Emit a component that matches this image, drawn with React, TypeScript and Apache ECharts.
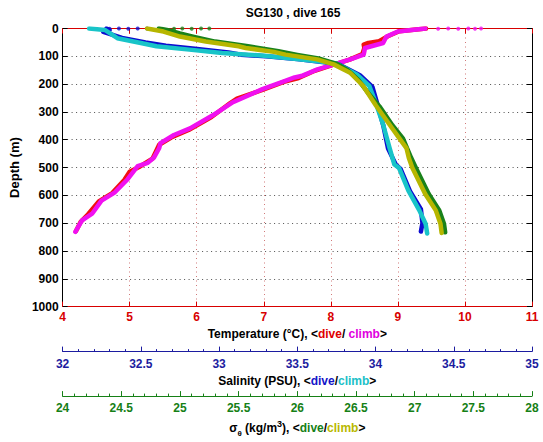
import React, { useEffect, useRef } from 'react';
import * as echarts from 'echarts';

const titleText = 'SG130 , dive 165';
const depthRange = [0, 1000, 100];
const tempRange = [4, 11, 1];
const salRange = [32, 35, 0.5];
const sigmaRange = [24, 28, 0.5];

// [value, depth (m)]
const tempDive: number[][] = [
  [9.42, 0], [9.02, 10], [8.85, 28], [8.72, 46], [8.56, 52], [8.49, 58], [8.5, 70], [8.47, 92],
  [8.28, 112], [8.02, 132], [7.76, 152], [7.52, 178], [7.3, 192], [6.97, 222], [6.6, 252],
  [6.5, 268], [6.22, 318], [5.88, 365], [5.62, 392], [5.44, 418], [5.34, 468], [5.14, 498],
  [5.0, 515], [4.92, 545], [4.74, 592], [4.54, 622], [4.38, 668], [4.27, 695], [4.2, 728],
];
const tempClimb: number[][] = [
  [9.41, 0], [9.0, 11], [8.83, 29], [8.78, 52], [8.51, 70], [8.49, 94], [8.29, 111], [8.05, 129],
  [7.8, 147], [7.56, 171], [7.46, 176], [7.32, 188], [6.98, 218], [6.54, 265], [6.24, 312],
  [5.9, 359], [5.66, 383], [5.46, 412], [5.44, 430], [5.36, 465], [5.27, 483], [5.12, 495],
  [4.97, 542], [4.78, 589], [4.58, 619], [4.44, 666], [4.29, 690], [4.19, 731],
];
const tempClimbSurface: number[][] = [
  [9.6, 1], [9.75, 0], [9.9, 1], [10.05, 0], [10.15, 1], [10.24, 0],
];

const salDive: number[][] = [
  [32.28, 0], [32.3, 6], [32.26, 12], [32.38, 34], [32.53, 50], [32.66, 62], [32.86, 74],
  [33.06, 86], [33.14, 94], [33.3, 100], [33.5, 110], [33.7, 123], [33.77, 130], [33.9, 168],
  [33.98, 210], [34.01, 268], [34.05, 350], [34.08, 432], [34.13, 490], [34.16, 505],
  [34.22, 585], [34.29, 650], [34.3, 700], [34.29, 730],
];
const salClimb: number[][] = [
  [32.17, 0], [32.27, 5], [32.35, 35], [32.5, 52], [32.6, 64], [32.81, 76], [33.02, 88],
  [33.27, 97], [33.48, 109], [33.69, 121], [33.75, 126], [33.88, 165], [33.96, 206],
  [34.0, 265], [34.05, 348], [34.09, 430], [34.12, 489], [34.15, 501], [34.21, 583],
  [34.28, 654], [34.32, 702], [34.33, 737],
];
const salDiveSurface: number[][] = [
  [32.3, 1], [32.36, 0], [32.42, 1], [32.48, 0], [32.54, 0],
];

const sigmaDive: number[][] = [
  [24.82, 0], [24.9, 6], [25.0, 18], [25.12, 30], [25.3, 47], [25.58, 64], [25.84, 82],
  [26.0, 95], [26.18, 108], [26.33, 126], [26.43, 150], [26.52, 185], [26.6, 230],
  [26.7, 280], [26.81, 348], [26.9, 395], [26.97, 465], [27.01, 501], [27.12, 595],
  [27.21, 654], [27.25, 702], [27.26, 733],
];
const sigmaClimb: number[][] = [
  [24.72, 0], [24.86, 11], [25.0, 29], [25.22, 47], [25.5, 64], [25.56, 70], [25.8, 84],
  [25.9, 94], [26.17, 111], [26.31, 129], [26.45, 159], [26.56, 206], [26.67, 277],
  [26.79, 348], [26.87, 395], [26.93, 430], [26.95, 465], [26.98, 501], [27.09, 595],
  [27.18, 654], [27.22, 702], [27.23, 735],
];
const sigmaDiveSurface: number[][] = [
  [24.95, 1], [25.02, 0], [25.1, 1], [25.18, 0], [25.25, 0],
];

const FONT = '"Liberation Sans", Arial, Helvetica, sans-serif';
const RED = '#d80000';
const BLUE = '#1c1ca0';
const GREEN = '#168016';

const lbl = (color: string, margin: number) => ({
  color,
  fontFamily: FONT,
  fontWeight: 'bold' as const,
  fontSize: 12,
  margin,
  formatter: (v: number) => String(v),
});

const tok = (color: string, extra: any = {}) => ({
  color,
  fontFamily: FONT,
  fontWeight: 'bold' as const,
  fontSize: 12,
  lineHeight: 18,
  ...extra,
});

const lineSeries = (name: string, data: number[][], color: string, xAxisIndex: number) => ({
  name,
  type: 'line',
  xAxisIndex,
  yAxisIndex: 0,
  data,
  symbol: 'none',
  lineStyle: { color, width: 4.5, cap: 'round', join: 'round' },
  silent: true,
});

const dotSeries = (name: string, data: number[][], color: string, xAxisIndex: number) => ({
  name,
  type: 'scatter',
  xAxisIndex,
  yAxisIndex: 0,
  data,
  symbol: 'circle',
  symbolSize: 4,
  itemStyle: { color },
  silent: true,
});

export default function App() {
  const ref = useRef<HTMLDivElement>(null);
  useEffect(() => {
    const chart = echarts.init(ref.current!, null, { renderer: 'svg' });
    const option: any = {
      animation: false,
      backgroundColor: '#ffffff',
      title: {
        text: titleText,
        left: 293,
        top: 7,
        padding: 0,
        textAlign: 'center',
        textStyle: { fontFamily: FONT, fontWeight: 'bold', fontSize: 12, color: '#000' },
      },
      grid: { left: 53.5, top: 28.5, right: 11, bottom: 131, containLabel: false },
      xAxis: [
        {
          type: 'value',
          position: 'bottom',
          min: tempRange[0],
          max: tempRange[1],
          interval: tempRange[2],
          axisLine: { onZero: false, lineStyle: { color: RED, width: 1 } },
          axisTick: { inside: true, length: 5, lineStyle: { color: RED } },
          axisLabel: lbl(RED, 4),
          splitLine: { show: true, lineStyle: { color: '#d07878', width: 1, type: [1, 3.5] } },
          name: '{k|Temperature (°C), <}{r|dive}{k|/ }{m|climb}{k|>}',
          nameLocation: 'middle',
          nameGap: 17,
          nameTextStyle: {
            fontFamily: FONT, fontWeight: 'bold', fontSize: 12, color: '#000',
            rich: { k: tok('#000'), r: tok('#e00000'), m: tok('#e000e0') },
          },
        },
        {
          type: 'value',
          position: 'bottom',
          offset: 45,
          min: salRange[0],
          max: salRange[1],
          interval: salRange[2],
          axisLine: { onZero: false, lineStyle: { color: BLUE, width: 1 } },
          axisTick: { inside: true, length: 5, lineStyle: { color: BLUE } },
          minorTick: { show: true, splitNumber: 5, length: 2.5, lineStyle: { color: BLUE } },
          axisLabel: lbl(BLUE, 6),
          splitLine: { show: false },
          name: '{k|Salinity (PSU), <}{b|dive}{k|/}{c|climb}{k|>}',
          nameLocation: 'middle',
          nameGap: 20,
          nameTextStyle: {
            fontFamily: FONT, fontWeight: 'bold', fontSize: 12, color: '#000',
            rich: { k: tok('#000'), b: tok('#1414c8'), c: tok('#20c0c8') },
          },
        },
        {
          type: 'value',
          position: 'bottom',
          offset: 89.5,
          min: sigmaRange[0],
          max: sigmaRange[1],
          interval: sigmaRange[2],
          axisLine: { onZero: false, lineStyle: { color: GREEN, width: 1 } },
          axisTick: { inside: true, length: 5, lineStyle: { color: GREEN } },
          minorTick: { show: true, splitNumber: 5, length: 2.5, lineStyle: { color: GREEN } },
          axisLabel: lbl(GREEN, 6),
          splitLine: { show: false },
          name: '{k|σ}{sub|θ}{k| (kg/m}{sup|3}{k|), <}{g|dive}{k|/}{y|climb}{k|>}',
          nameLocation: 'middle',
          nameGap: 18,
          nameTextStyle: {
            fontFamily: FONT, fontWeight: 'bold', fontSize: 12, color: '#000',
            rich: {
              k: tok('#000'),
              sub: tok('#000', { fontSize: 8, lineHeight: 6, verticalAlign: 'bottom' }),
              sup: tok('#000', { fontSize: 9, lineHeight: 8, verticalAlign: 'top' }),
              g: tok('#168016'),
              y: tok('#b8b800'),
            },
          },
        },
        {
          type: 'value',
          position: 'top',
          min: tempRange[0],
          max: tempRange[1],
          interval: tempRange[2],
          axisLine: { onZero: false, lineStyle: { color: RED, width: 1 } },
          axisTick: { inside: true, length: 5, lineStyle: { color: RED } },
          axisLabel: { show: false },
          splitLine: { show: false },
        },
      ],
      yAxis: [
        {
          type: 'value',
          position: 'left',
          inverse: true,
          min: depthRange[0],
          max: depthRange[1],
          interval: depthRange[2],
          axisLine: { onZero: false, lineStyle: { color: '#000', width: 1 } },
          axisTick: { inside: true, length: 5, lineStyle: { color: '#000' } },
          axisLabel: lbl('#000', 4),
          splitLine: { show: true, lineStyle: { color: '#505050', width: 1, type: [1, 3.5] } },
          name: 'Depth (m)',
          nameLocation: 'middle',
          nameGap: 38,
          nameTextStyle: { fontFamily: FONT, fontWeight: 'bold', fontSize: 13, color: '#000' },
        },
        {
          type: 'value',
          position: 'right',
          inverse: true,
          min: depthRange[0],
          max: depthRange[1],
          interval: depthRange[2],
          axisLine: { onZero: false, lineStyle: { color: '#000', width: 1 } },
          axisTick: { inside: true, length: 5, lineStyle: { color: '#000' } },
          axisLabel: { show: false },
          splitLine: { show: false },
        },
      ],
      series: [
        lineSeries('Temperature dive', tempDive, '#f01010', 0),
        lineSeries('Temperature climb', tempClimb, '#f010f0', 0),
        dotSeries('Temperature climb surface', tempClimbSurface, '#f010f0', 0),
        lineSeries('Salinity dive', salDive, '#0c0cd0', 1),
        dotSeries('Salinity dive surface', salDiveSurface, '#0c0cd0', 1),
        lineSeries('Salinity climb', salClimb, '#18c4c8', 1),
        lineSeries('Density dive', sigmaDive, '#1a821a', 2),
        dotSeries('Density dive surface', sigmaDiveSurface, '#1a821a', 2),
        lineSeries('Density climb', sigmaClimb, '#b6b600', 2),
      ],
    };
    chart.setOption(option);
    return () => chart.dispose();
  }, []);
  return (
    <div
      ref={ref}
      style={{ position: 'absolute', left: 0, top: 0, width: 543, height: 442, background: '#fff' }}
    />
  );
}
